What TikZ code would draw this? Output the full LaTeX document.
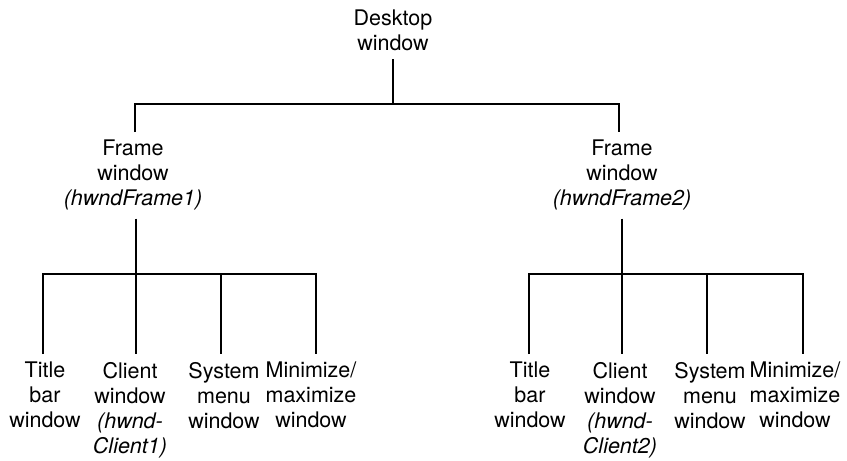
\documentclass[tikz,border=0pt]{standalone}
\usepackage{fontspec}
\setmainfont{TeX Gyre Heros}
\begin{document}
\begin{tikzpicture}[x=1pt,y=-1pt,
  lbl/.style={align=center,inner xsep=0pt,inner ysep=8pt,anchor=north,
              font=\fontsize{21.5}{25}\selectfont},
  wire/.style={line width=1.6pt,line join=miter}]
\useasboundingbox (0,0) rectangle (847,461);

% window hierarchy labels
\node[lbl] (desk) at (393,2) {Desktop\\window};
\node[lbl] (frA) at (133,132) {Frame\\window\\\textit{(hwndFrame1)}};
\node[lbl] (frB) at (622,132) {Frame\\window\\\textit{(hwndFrame2)}};

\node[lbl] (titA) at (45,354)  {Title\\bar\\window};
\node[lbl] (cliA) at (130,354) {Client\\window\\\textit{(hwnd-}\\\textit{Client1)}};
\node[lbl] (sysA) at (224,354) {System\\menu\\window};
\node[lbl] (minA) at (311,354) {Minimize/\\maximize\\window};

\node[lbl] (titB) at (530,354) {Title\\bar\\window};
\node[lbl] (cliB) at (620,354) {Client\\window\\\textit{(hwnd-}\\\textit{Client2)}};
\node[lbl] (sysB) at (710,354) {System\\menu\\window};
\node[lbl] (minB) at (795,354) {Minimize/\\maximize\\window};

% bus points
\coordinate (top)  at (393,104);
\coordinate (topL) at (135,104);
\coordinate (topR) at (619,104);
\coordinate (a1) at (43,274);
\coordinate (a2) at (136,274);
\coordinate (a3) at (221,274);
\coordinate (a4) at (316,274);
\coordinate (b1) at (529,274);
\coordinate (b2) at (622,274);
\coordinate (b3) at (707,274);
\coordinate (b4) at (803,274);

% connectors
\draw[wire] (desk.south) -- (desk.south |- top);
\draw[wire] (topL |- frA.north) -- (topL) -- (topR) -- (topR |- frB.north);

\draw[wire] (a2 |- frA.south) -- (a2);
\draw[wire] (a1 |- titA.north) -- (a1) -- (a4) -- (a4 |- minA.north);
\draw[wire] (a2) -- (a2 |- cliA.north);
\draw[wire] (a3) -- (a3 |- sysA.north);

\draw[wire] (b2 |- frB.south) -- (b2);
\draw[wire] (b1 |- titB.north) -- (b1) -- (b4) -- (b4 |- minB.north);
\draw[wire] (b2) -- (b2 |- cliB.north);
\draw[wire] (b3) -- (b3 |- sysB.north);
\end{tikzpicture}
\end{document}
